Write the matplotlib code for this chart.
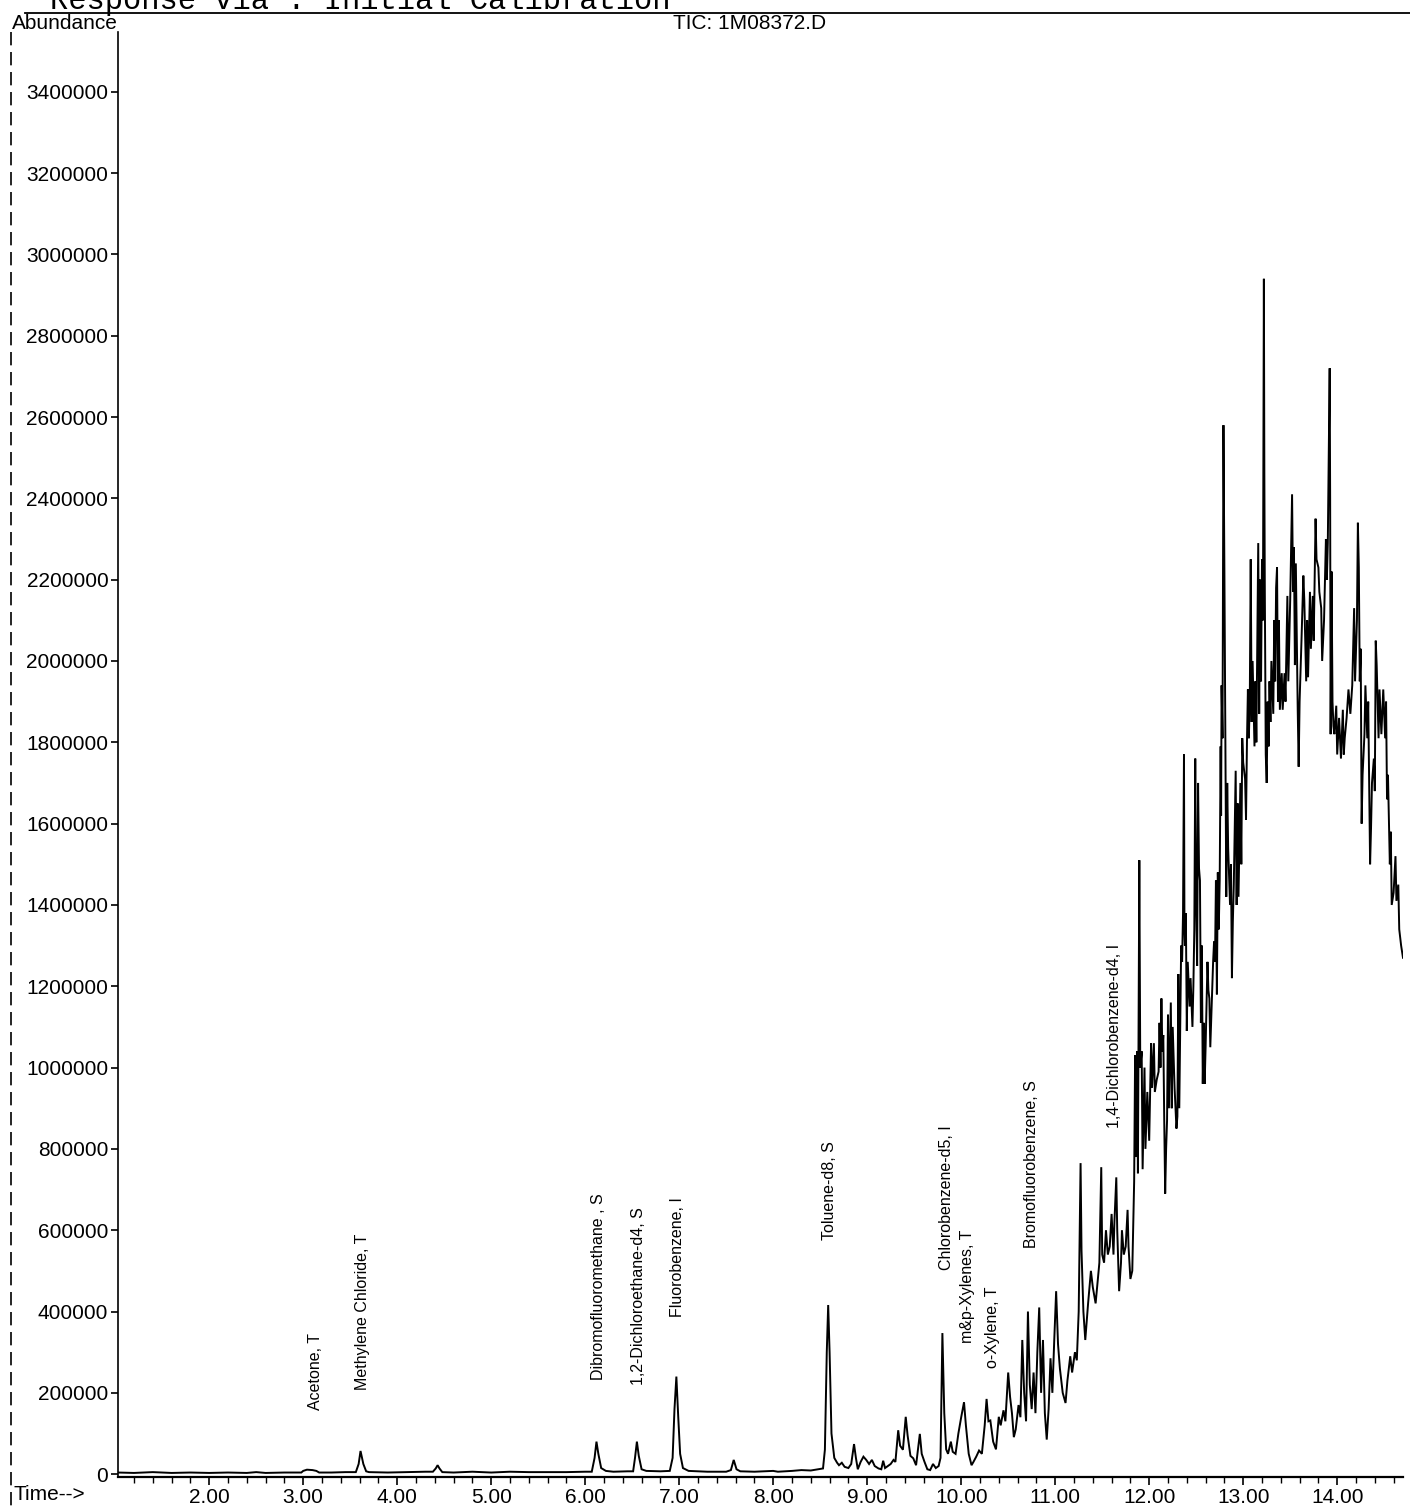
import matplotlib
matplotlib.use("Agg")
import matplotlib.pyplot as plt
from matplotlib.lines import Line2D
import numpy as np

plt.rcParams['font.family'] = ['Liberation Sans', 'DejaVu Sans']

# Total ion chromatogram: (retention time in min, abundance in thousands)
early_trace = [
    (1.03, 4), (1.20, 3), (1.40, 5), (1.60, 3), (1.80, 4), (2.00, 3), (2.20, 4),
    (2.40, 3), (2.50, 5), (2.60, 3), (2.80, 4), (2.98, 4), (3.00, 8), (3.04, 11),
    (3.10, 10), (3.14, 8), (3.17, 4), (3.30, 4), (3.45, 5), (3.56, 5), (3.59, 25),
    (3.61, 57), (3.64, 25), (3.67, 7), (3.70, 5), (3.90, 4), (4.10, 5), (4.30, 6),
    (4.38, 6), (4.41, 14), (4.43, 22), (4.45, 14), (4.48, 5), (4.60, 4), (4.80, 6),
    (5.00, 4), (5.20, 6), (5.40, 5), (5.60, 5), (5.80, 5), (6.00, 6), (6.07, 6),
    (6.10, 40), (6.12, 80), (6.14, 50), (6.17, 15), (6.22, 8), (6.30, 6), (6.45, 7),
    (6.51, 7), (6.53, 40), (6.55, 80), (6.57, 45), (6.60, 12), (6.65, 8), (6.80, 7),
    (6.90, 8), (6.93, 40), (6.95, 160), (6.97, 240), (6.99, 140), (7.01, 50),
    (7.04, 15), (7.10, 8), (7.30, 6), (7.50, 6), (7.55, 10), (7.58, 35), (7.61, 12),
    (7.65, 7), (7.80, 6), (7.90, 7), (8.00, 8), (8.05, 6), (8.20, 8), (8.30, 10),
    (8.40, 9), (8.48, 12), (8.53, 14),
]

mid_trace = [
    (8.55, 60), (8.57, 300), (8.585, 416), (8.60, 300), (8.62, 100), (8.65, 40),
    (8.68, 28), (8.70, 22), (8.73, 28), (8.76, 18), (8.80, 15), (8.83, 25),
    (8.86, 74), (8.88, 40), (8.90, 12), (8.93, 30), (8.96, 43), (8.99, 35),
    (9.02, 25), (9.05, 35), (9.08, 20), (9.12, 14), (9.15, 12), (9.17, 33),
    (9.19, 15), (9.22, 20), (9.25, 25), (9.28, 35), (9.30, 30), (9.33, 108),
    (9.35, 70), (9.38, 60), (9.41, 141), (9.43, 95), (9.46, 45), (9.49, 39),
    (9.52, 22), (9.54, 60), (9.56, 99), (9.58, 50), (9.61, 30), (9.64, 12),
    (9.67, 10), (9.70, 25), (9.73, 15), (9.76, 20), (9.78, 40), (9.80, 347),
    (9.82, 150), (9.84, 61), (9.86, 50), (9.89, 80), (9.91, 55), (9.94, 50),
    (9.97, 100), (10.00, 140), (10.03, 177), (10.05, 120), (10.08, 50), (10.11, 22),
    (10.13, 30), (10.16, 43), (10.19, 58), (10.22, 50), (10.25, 120), (10.27, 185),
    (10.29, 130), (10.31, 132), (10.34, 80), (10.37, 61), (10.40, 141), (10.42, 120),
    (10.45, 157), (10.47, 130), (10.50, 250), (10.52, 190), (10.54, 150), (10.56, 91),
    (10.58, 110), (10.61, 170), (10.63, 140), (10.65, 330), (10.67, 200), (10.69, 130),
    (10.71, 400), (10.73, 220), (10.75, 160), (10.77, 250), (10.79, 150), (10.81, 300),
    (10.83, 410), (10.85, 200), (10.87, 330), (10.89, 150), (10.91, 85), (10.93, 160),
    (10.95, 285), (10.97, 200), (10.99, 330), (11.01, 450), (11.03, 320), (11.05, 260),
    (11.08, 200), (11.11, 175), (11.13, 230), (11.16, 290), (11.18, 250), (11.21, 300),
    (11.23, 280), (11.25, 400), (11.27, 765), (11.28, 550), (11.30, 400), (11.32, 330),
    (11.35, 420), (11.38, 500), (11.40, 460), (11.43, 420), (11.45, 470), (11.47, 520),
    (11.49, 755), (11.50, 540), (11.52, 520), (11.54, 600), (11.56, 540), (11.58, 560),
    (11.60, 640), (11.62, 540), (11.63, 620), (11.65, 730), (11.66, 600), (11.68, 450),
    (11.70, 520), (11.71, 600), (11.73, 540), (11.75, 560), (11.77, 650), (11.78, 560),
    (11.80, 480), (11.82, 500), (11.84, 720), (11.85, 1030), (11.86, 780), (11.87, 1040),
    (11.88, 740),
]

hump_trace = [
    (11.895, 1510), (11.905, 1000), (11.92, 1040), (11.93, 750), (11.95, 1000),
    (11.96, 800), (11.98, 940), (12.00, 820), (12.02, 1060), (12.03, 950), (12.05, 1060),
    (12.06, 940), (12.08, 970), (12.10, 990), (12.11, 1110), (12.12, 1000), (12.13, 1170),
    (12.14, 1040), (12.15, 1080), (12.16, 870), (12.17, 690), (12.18, 800), (12.19, 870),
    (12.20, 1130), (12.21, 900), (12.23, 1160), (12.24, 900), (12.25, 1100), (12.27, 950),
    (12.29, 850), (12.30, 880), (12.31, 1230), (12.32, 900), (12.34, 1300), (12.35, 1260),
    (12.36, 1380), (12.37, 1770), (12.375, 1340), (12.38, 1300), (12.39, 1380),
    (12.40, 1090), (12.41, 1260), (12.43, 1150), (12.44, 1220), (12.46, 1100),
    (12.47, 1200), (12.48, 1340), (12.49, 1760), (12.50, 1400), (12.51, 1250),
    (12.52, 1700), (12.53, 1490), (12.54, 1460), (12.55, 1110), (12.56, 1300),
    (12.57, 960), (12.58, 1110), (12.59, 960), (12.60, 1050), (12.62, 1260),
    (12.63, 1190), (12.64, 1170), (12.65, 1050), (12.66, 1120), (12.68, 1260),
    (12.69, 1310), (12.70, 1260), (12.71, 1460), (12.72, 1180), (12.73, 1480),
    (12.74, 1340), (12.75, 1460), (12.76, 1790), (12.765, 1620), (12.77, 1940),
    (12.78, 1810), (12.79, 2580), (12.80, 2220), (12.81, 1810), (12.82, 1420),
    (12.83, 1700), (12.84, 1540), (12.86, 1400), (12.87, 1500), (12.88, 1220),
    (12.89, 1360), (12.90, 1450), (12.92, 1730), (12.93, 1400), (12.94, 1650),
    (12.95, 1420), (12.97, 1700), (12.98, 1500), (12.99, 1810), (13.00, 1750),
    (13.02, 1710), (13.03, 1610), (13.04, 1800), (13.05, 1930), (13.06, 1810),
    (13.07, 1900), (13.08, 2250), (13.09, 1850), (13.10, 2000), (13.12, 1790),
    (13.13, 1950), (13.14, 1800), (13.16, 2290), (13.17, 1870), (13.18, 2200),
    (13.19, 1950), (13.20, 2250), (13.21, 2100), (13.22, 2940), (13.225, 2460),
    (13.23, 2170), (13.24, 1770), (13.25, 1700), (13.26, 1900), (13.27, 1790),
    (13.28, 1950), (13.29, 1850), (13.30, 2000), (13.32, 1870), (13.33, 2100),
    (13.34, 1950), (13.35, 2180), (13.36, 2230), (13.37, 1900), (13.38, 2100),
    (13.39, 1880), (13.41, 1970), (13.42, 1880), (13.44, 1970), (13.45, 1900),
    (13.47, 2160), (13.48, 1950), (13.50, 2150), (13.51, 2280), (13.52, 2410),
    (13.53, 2170), (13.54, 2280), (13.55, 1990), (13.56, 2240), (13.58, 1880),
    (13.59, 1740), (13.60, 1900), (13.62, 2050), (13.64, 2210), (13.65, 2150),
    (13.67, 1950), (13.68, 2100), (13.69, 1960), (13.71, 2170), (13.72, 2030),
    (13.74, 2160), (13.75, 2050), (13.77, 2350), (13.78, 2250), (13.80, 2230),
    (13.81, 2170), (13.83, 2130), (13.84, 2000), (13.86, 2100), (13.88, 2300),
    (13.89, 2200), (13.90, 2290), (13.92, 2720), (13.925, 2400), (13.93, 1820),
    (13.94, 2220), (13.95, 1900), (13.96, 1840), (13.97, 1820), (13.99, 1890),
    (14.00, 1770), (14.02, 1860), (14.04, 1760), (14.06, 1880), (14.07, 1770),
    (14.08, 1810), (14.10, 1860), (14.12, 1930), (14.14, 1870), (14.16, 1940),
    (14.18, 2130), (14.19, 1950), (14.21, 2100), (14.22, 2340), (14.23, 2230),
    (14.24, 1950), (14.25, 2030), (14.26, 1600), (14.27, 1720), (14.29, 1820),
    (14.30, 1940), (14.32, 1810), (14.33, 1900), (14.35, 1500), (14.36, 1590),
    (14.37, 1700), (14.39, 1760), (14.40, 1680), (14.41, 2050), (14.42, 1990),
    (14.44, 1810), (14.45, 1930), (14.47, 1820), (14.49, 1930), (14.51, 1810),
    (14.52, 1900), (14.53, 1660), (14.54, 1720), (14.56, 1500), (14.57, 1580),
    (14.58, 1400), (14.60, 1430), (14.62, 1520), (14.63, 1410), (14.65, 1450),
    (14.66, 1340), (14.68, 1300), (14.70, 1270),
]

# Compound annotations: name, retention time, abundance (thousands) where the label starts
peak_names = [
    "Acetone, T", "Methylene Chloride, T", "Dibromofluoromethane , S",
    "1,2-Dichloroethane-d4, S", "Fluorobenzene, I", "Toluene-d8, S",
    "Chlorobenzene-d5, I", "m&p-Xylenes, T", "o-Xylene, T",
    "Bromofluorobenzene, S", "1,4-Dichlorobenzene-d4, I",
]
peak_label_rt = [3.13, 3.63, 6.14, 6.565, 6.98, 8.60, 9.845, 10.07, 10.33, 10.75, 11.63]
peak_label_base = [157, 207, 231, 219, 386, 576, 502, 322, 261, 556, 851]

y_ticks = [0, 200000, 400000, 600000, 800000, 1000000, 1200000, 1400000, 1600000,
           1800000, 2000000, 2200000, 2400000, 2600000, 2800000, 3000000, 3200000,
           3400000]
x_ticks = [2, 3, 4, 5, 6, 7, 8, 9, 10, 11, 12, 13, 14]

# ---------------------------------------------------------------------------
W, H = 1410, 1508
fig = plt.figure(figsize=(W / 100, H / 100), dpi=100)
fig.patch.set_facecolor("white")


def fx(px):
    return px / W


def fy(py):
    return 1 - py / H


ax = fig.add_axes([fx(118), fy(1477), fx(1403) - fx(118), fy(32) - fy(1477)])

trace = early_trace + mid_trace + hump_trace
rt = np.array([p[0] for p in trace])
abundance = np.array([p[1] for p in trace]) * 1000.0

ax.plot(rt, abundance, color="black", lw=1.4, solid_joinstyle="miter")

ax.set_xlim(1.03, 14.70)
ax.set_ylim(-7000, 3547000)

for name, t, base in zip(peak_names, peak_label_rt, peak_label_base):
    ax.text(t, base * 1000, name, rotation=90, ha="center", va="bottom",
            fontsize=11.5, color="black")

ax.set_yticks(y_ticks)
ax.set_yticklabels([str(v) for v in y_ticks])
ax.set_xticks(x_ticks)
ax.set_xticklabels(["%.2f" % v for v in x_ticks])
ax.set_xticks(np.arange(1.2, 14.7, 0.2), minor=True)

ax.tick_params(axis="x", which="major", direction="out", length=6, width=1.2,
               labelsize=15, pad=2)
ax.tick_params(axis="x", which="minor", direction="out", length=4, width=1.0)
ax.tick_params(axis="y", which="major", direction="out", length=5, width=1.2,
               labelsize=15, pad=2)

for side in ("top", "right"):
    ax.spines[side].set_visible(False)
ax.spines["left"].set_linewidth(1.2)
ax.spines["bottom"].set_linewidth(1.6)

# Page furniture around the plot frame
fig.add_artist(Line2D([fx(25), fx(1410)], [fy(13), fy(13)], color="black", lw=1.3))
fig.add_artist(Line2D([fx(11), fx(11)], [fy(32), fy(1508)], color="black", lw=1.2,
                      linestyle=(0, (8, 4))))

fig.text(fx(50), fy(9), "Response via : Initial Calibration",
         family="Liberation Mono", fontsize=22, va="baseline", ha="left")
fig.text(fx(12), fy(14), "Abundance", fontsize=15, va="top", ha="left")
fig.text(fx(750), fy(14), "TIC: 1M08372.D", fontsize=15, va="top", ha="center")
fig.text(fx(13), fy(1494), "Time-->", fontsize=15, va="center", ha="left")

fig.savefig("out.png", dpi=100, facecolor="white")
